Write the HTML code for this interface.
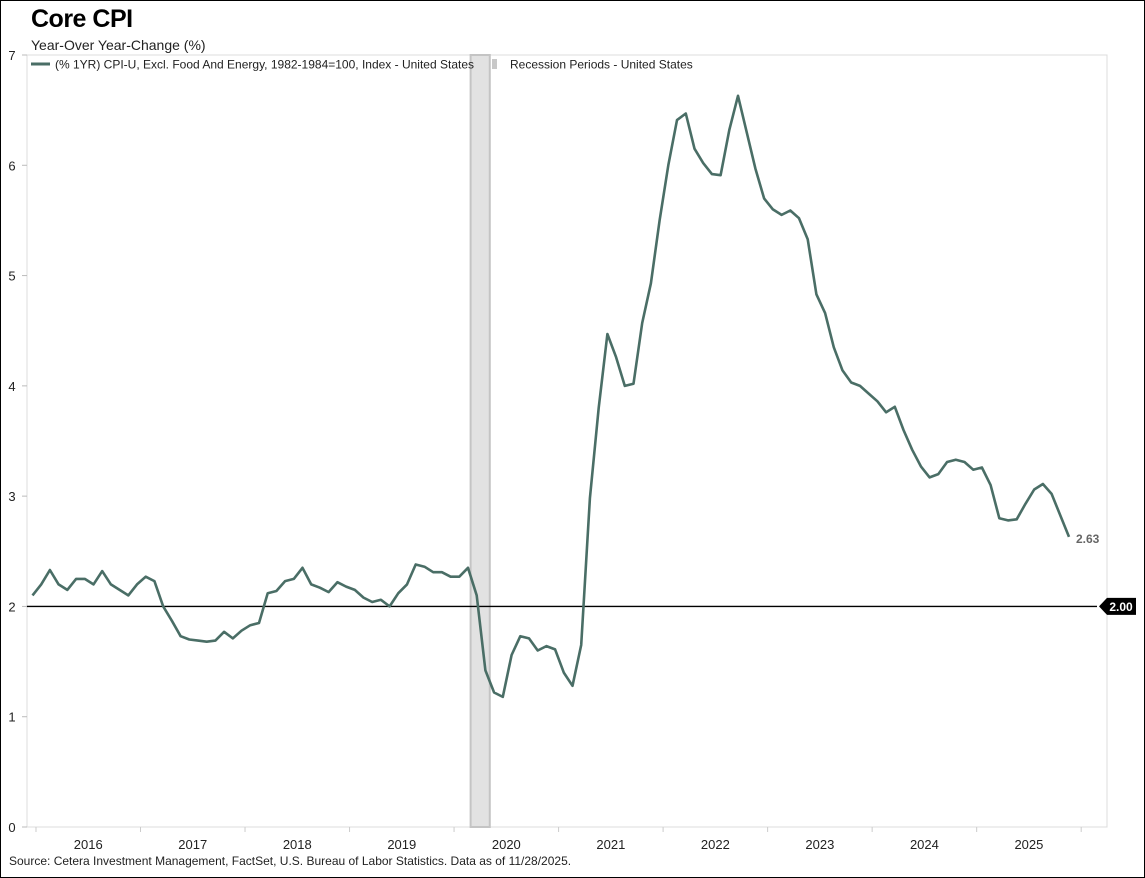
<!DOCTYPE html>
<html><head><meta charset="utf-8"><style>
html,body{margin:0;padding:0;background:#fff}
body{width:1145px;height:878px;overflow:hidden;font-family:"Liberation Sans",sans-serif}
#frame{position:absolute;left:0;top:0;width:1143px;height:876px;border:1px solid #000}
.t{position:absolute;white-space:nowrap;color:#222}
</style></head><body>
<div id="frame"></div>
<div class="t" style="left:31px;top:5px;font-size:25px;font-weight:bold;color:#000;letter-spacing:-0.5px">Core CPI</div>
<div class="t" style="left:31px;top:37px;font-size:14px">Year-Over Year-Change (%)</div>
<div class="t" style="left:9px;top:854px;font-size:12px">Source: Cetera Investment Management, FactSet, U.S. Bureau of Labor Statistics. Data as of 11/28/2025.</div>
<svg id="chart" width="1145" height="878" style="position:absolute;left:0;top:0" font-family="Liberation Sans, sans-serif"></svg>
<script>
const values=[2.1,2.2,2.33,2.2,2.15,2.25,2.25,2.2,2.32,2.2,2.15,2.1,
2.2,2.27,2.23,2.0,1.87,1.73,1.7,1.69,1.68,1.69,1.77,1.71,
1.78,1.83,1.85,2.12,2.14,2.23,2.25,2.35,2.2,2.17,2.13,2.22,
2.18,2.15,2.08,2.04,2.06,2.0,2.12,2.2,2.38,2.36,2.31,2.31,
2.27,2.27,2.35,2.1,1.42,1.22,1.18,1.56,1.73,1.71,1.6,1.64,
1.61,1.4,1.28,1.65,2.98,3.8,4.47,4.26,4.0,4.02,4.57,4.93,
5.5,6.0,6.41,6.47,6.15,6.02,5.92,5.91,6.32,6.63,6.3,5.97,
5.7,5.6,5.55,5.59,5.52,5.33,4.83,4.66,4.35,4.14,4.03,4.0,
3.93,3.86,3.76,3.81,3.6,3.42,3.27,3.17,3.2,3.31,3.33,3.31,
3.24,3.26,3.1,2.8,2.78,2.79,2.93,3.06,3.11,3.02,null,2.63];
const yearLabels=["2016","2017","2018","2019","2020","2021","2022","2023","2024","2025"];
const yTicks=[0,1,2,3,4,5,6,7];
const recession=[50.3,52.5];
const target=2.0;
const lastLabel="2.63";

const NS="http://www.w3.org/2000/svg";
const svg=document.getElementById('chart');
const L=27,R=1107,T=55,B=827;
const x=i=>32.5+i*8.71;
const y=v=>B-(v/7)*(B-T);
function mk(tag,attrs,parent){const e=document.createElementNS(NS,tag);for(const k in attrs)e.setAttribute(k,attrs[k]);(parent||svg).appendChild(e);return e;}

// plot frame
const fr=mk('rect',{x:L,y:T,width:R-L,height:B-T,fill:'none',stroke:'#dcdcdc','stroke-width':1});



// recession band
const rb=mk('rect',{x:x(recession[0]),y:T,width:x(recession[1])-x(recession[0]),height:B-T,fill:'#e2e2e2',stroke:'#c4c4c4','stroke-width':2});



// y ticks
yTicks.forEach(v=>{
  const tl=mk('line',{x1:L-5,x2:L,y1:y(v),y2:y(v),stroke:'#bbb'});
  
  
  const t=mk('text',{x:12,y:y(v)+5,'font-size':13,fill:'#222','text-anchor':'middle'});
  t.textContent=v;
  
  
});
// x ticks
for(let k=0;k<=yearLabels.length;k++){
  const tx=x(12*k+0.4);
  const tl=mk('line',{x1:tx,x2:tx,y1:B,y2:B+5,stroke:'#ccc'});
  
  
}
yearLabels.forEach((lab,k)=>{
  const t=mk('text',{x:x(12*k+6.4),y:B+22,'font-size':13,fill:'#222','text-anchor':'middle'});
  t.textContent=lab;
  
  
});

// target line
const tg=mk('line',{x1:L,x2:1097,y1:y(target),y2:y(target),stroke:'#000','stroke-width':1.3});


const tgTag=mk('path',{d:`M1099 ${y(target)} L1107 ${y(target)-8.5} L1136 ${y(target)-8.5} L1136 ${y(target)+8.5} L1107 ${y(target)+8.5} Z`,fill:'#000'});


const tgT=mk('text',{x:1121,y:y(target)+4.5,'font-size':12,'font-weight':'bold',fill:'#fff','text-anchor':'middle'});
tgT.textContent=target.toFixed(2);



// series line (skip null, connect across)
let d='';let last=-1;
values.forEach((v,i)=>{if(v==null)return;d+=(d?'L':'M')+x(i).toFixed(1)+' '+y(v).toFixed(1)+' ';last=i;});
const ln=mk('path',{d:d,fill:'none',stroke:'#4a6e66','stroke-width':2.6,'stroke-linejoin':'round'});


const ll=mk('text',{x:x(last)+7,y:y(values[last])+6,'font-size':12,'font-weight':'bold',fill:'#666'});
ll.textContent=lastLabel;



// legend
const lg=mk('g',{});


mk('line',{x1:31,x2:50,y1:64,y2:64,stroke:'#4a6e66','stroke-width':3},lg);
const l1=mk('text',{x:55,y:68.5,'font-size':12,fill:'#222'},lg);
l1.textContent='(% 1YR) CPI-U, Excl. Food And Energy, 1982-1984=100, Index - United States';


mk('rect',{x:492,y:59,width:5,height:10,fill:'#c8c8c8'},lg);
const l2=mk('text',{x:510,y:68.5,'font-size':12,fill:'#222'},lg);
l2.textContent='Recession Periods - United States';


</script>
</body></html>
